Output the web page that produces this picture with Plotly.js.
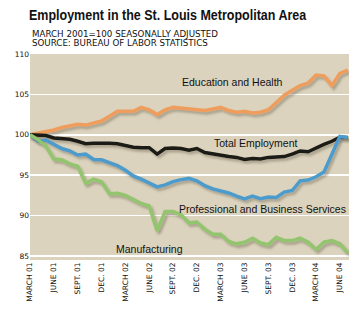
<!DOCTYPE html>
<html>
<head>
<meta charset="utf-8">
<script src="https://cdn.plot.ly/plotly-3.0.1.min.js"></script>
<style>
html,body{margin:0;padding:0;background:#fff;}
#chart{width:353px;height:329px;}
</style>
</head>
<body>
<div id="chart"></div>
<script>
// Month labels every 3 months (March 2001 .. June 2004), data is monthly March 2001 .. July 2004
const tickLabels = ["MARCH 01","JUNE 01","SEPT. 01","DEC. 01","MARCH 02","JUNE 02","SEPT. 02","DEC. 02","MARCH 03","JUNE 03","SEPT. 03","DEC. 03","MARCH 04","JUNE 04"];

const educationHealth = [100.0,100.2,100.3,100.6,100.9,101.1,101.3,101.2,101.5,101.7,102.3,102.9,102.9,102.9,103.4,103.1,102.5,103.1,103.4,103.3,103.3,103.2,103.0,103.2,103.4,103.0,102.8,102.9,102.7,102.8,103.1,104.0,104.9,105.5,106.1,106.4,107.4,107.3,106.1,107.6,108.0];
const totalEmployment = [100.0,99.95,99.9,99.6,99.5,99.45,99.2,98.9,98.95,99.0,98.95,98.9,98.7,98.45,98.4,98.4,97.6,98.3,98.35,98.3,98.1,98.3,97.8,97.6,97.4,97.3,97.2,96.95,97.05,97.0,97.2,97.25,97.3,97.6,98.0,97.9,98.4,98.8,99.2,99.7,99.65];
const profBusiness = [100.0,99.2,99.35,98.8,98.3,98.0,97.5,97.6,96.95,96.9,96.6,96.2,95.6,94.9,94.5,94.0,93.55,93.8,94.2,94.45,94.6,94.3,93.7,93.3,93.1,92.8,92.4,92.05,92.4,92.1,92.3,92.25,92.9,93.1,94.3,94.4,94.8,95.4,97.6,99.8,99.65];
const manufacturing = [100.0,99.4,98.6,97.0,96.9,96.4,96.1,94.0,94.5,94.2,92.7,92.75,92.5,92.0,91.5,91.2,88.1,90.5,90.5,90.1,89.1,89.2,88.3,87.7,87.7,86.8,86.5,86.7,87.2,86.6,86.4,87.3,86.9,86.9,87.2,86.7,85.8,86.7,86.9,86.5,85.4];
const yTicks = [85,90,95,100,105,110];

const seriesNames = ["Education and Health","Total Employment","Professional and Business Services","Manufacturing"];
const seriesData = [educationHealth, totalEmployment, profBusiness, manufacturing];
const seriesColors = ["#ef9d5c","#1c1a17","#4c9ccc","#92c56e"];

const monthIndex = educationHealth.map((_, i) => i);
const tickVals = tickLabels.map((_, i) => i * 3);

const traces = seriesData.map((d, k) => ({
  type: "scatter", mode: "lines", name: seriesNames[k],
  x: monthIndex, y: d,
  line: {color: seriesColors[k], width: 3.5, shape: "linear"},
  hoverinfo: "skip"
}));

const labelFont = {family: "Liberation Sans, Arial, sans-serif", size: 10.5, color: "#111"};
const subFont = {family: "DejaVu Sans, sans-serif", size: 8.7, color: "#111"};
const annotations = [
  {text: "MARCH 2001=100 SEASONALLY ADJUSTED", xref: "paper", yref: "paper", x: 0, y: 1.097, xanchor: "left", yanchor: "middle", showarrow: false, font: subFont},
  {text: "SOURCE: BUREAU OF LABOR STATISTICS", xref: "paper", yref: "paper", x: 0, y: 1.052, xanchor: "left", yanchor: "middle", showarrow: false, font: subFont},
  {text: seriesNames[0], x: 25.5, y: 106.5, showarrow: false, xanchor: "center", yanchor: "middle", font: labelFont},
  {text: seriesNames[1], x: 28.4, y: 98.95, showarrow: false, xanchor: "center", yanchor: "middle", font: labelFont},
  {text: seriesNames[2], x: 29.2, y: 90.8, showarrow: false, xanchor: "center", yanchor: "middle", font: labelFont},
  {text: seriesNames[3], x: 15.1, y: 85.9, showarrow: false, xanchor: "center", yanchor: "middle", font: labelFont}
];

const layout = {
  width: 353, height: 329,
  margin: {l: 30, r: 4, t: 54, b: 69, pad: 0},
  paper_bgcolor: "#ffffff",
  plot_bgcolor: "#dbd3bd",
  showlegend: false,
  title: {
    text: "<b>Employment in the St. Louis Metropolitan Area</b>",
    xref: "container", yref: "container",
    x: 29/353, xanchor: "left", y: 1 - 15/329, yanchor: "middle",
    font: {family: "Liberation Sans, Arial, sans-serif", size: 15, color: "#111"}
  },
  xaxis: {
    range: [0, 40.15], tickmode: "array", tickvals: tickVals, ticktext: tickLabels,
    tickangle: -90, showgrid: false, zeroline: false, showline: false, ticks: "",
    ticklen: 0, tickfont: {family: "DejaVu Sans, sans-serif", size: 7.5, color: "#111"},
    fixedrange: true
  },
  yaxis: {
    range: [84.5, 110], tickmode: "array", tickvals: yTicks, ticktext: yTicks.map(String),
    showgrid: true, gridcolor: "#ffffff", gridwidth: 1.5, zeroline: false, showline: false,
    ticks: "", tickfont: {family: "DejaVu Sans, sans-serif", size: 7.5, color: "#111"},
    fixedrange: true
  },
  annotations: annotations
};

Plotly.newPlot("chart", traces, layout, {displayModeBar: false, staticPlot: true}).then(gd => {
  const svg = gd.querySelector("svg.main-svg");
  const ns = "http://www.w3.org/2000/svg";
  let defs = svg.querySelector("defs");
  if (!defs) { defs = document.createElementNS(ns, "defs"); svg.insertBefore(defs, svg.firstChild); }
  const f = document.createElementNS(ns, "filter");
  f.setAttribute("id", "lineShadow");
  f.setAttribute("x", "-10%"); f.setAttribute("y", "-10%");
  f.setAttribute("width", "130%"); f.setAttribute("height", "130%");
  const ds = document.createElementNS(ns, "feDropShadow");
  ds.setAttribute("dx", "2"); ds.setAttribute("dy", "2.5");
  ds.setAttribute("stdDeviation", "1");
  ds.setAttribute("flood-color", "#6b6250"); ds.setAttribute("flood-opacity", "0.45");
  f.appendChild(ds); defs.appendChild(f);
  gd.querySelectorAll(".scatterlayer .trace").forEach(t => t.setAttribute("filter", "url(#lineShadow)"));
  // condense the title horizontally to match the narrow display face of the original
  const tg = gd.querySelector(".g-gtitle");
  if (tg) {
    const bb = tg.getBBox();
    const target = 278;
    const s = Math.min(1, target / bb.width);
    tg.setAttribute("transform", "translate(" + bb.x + ",0) scale(" + s + ",1) translate(" + (-bb.x) + ",0)");
  }
});
</script>
</body>
</html>
